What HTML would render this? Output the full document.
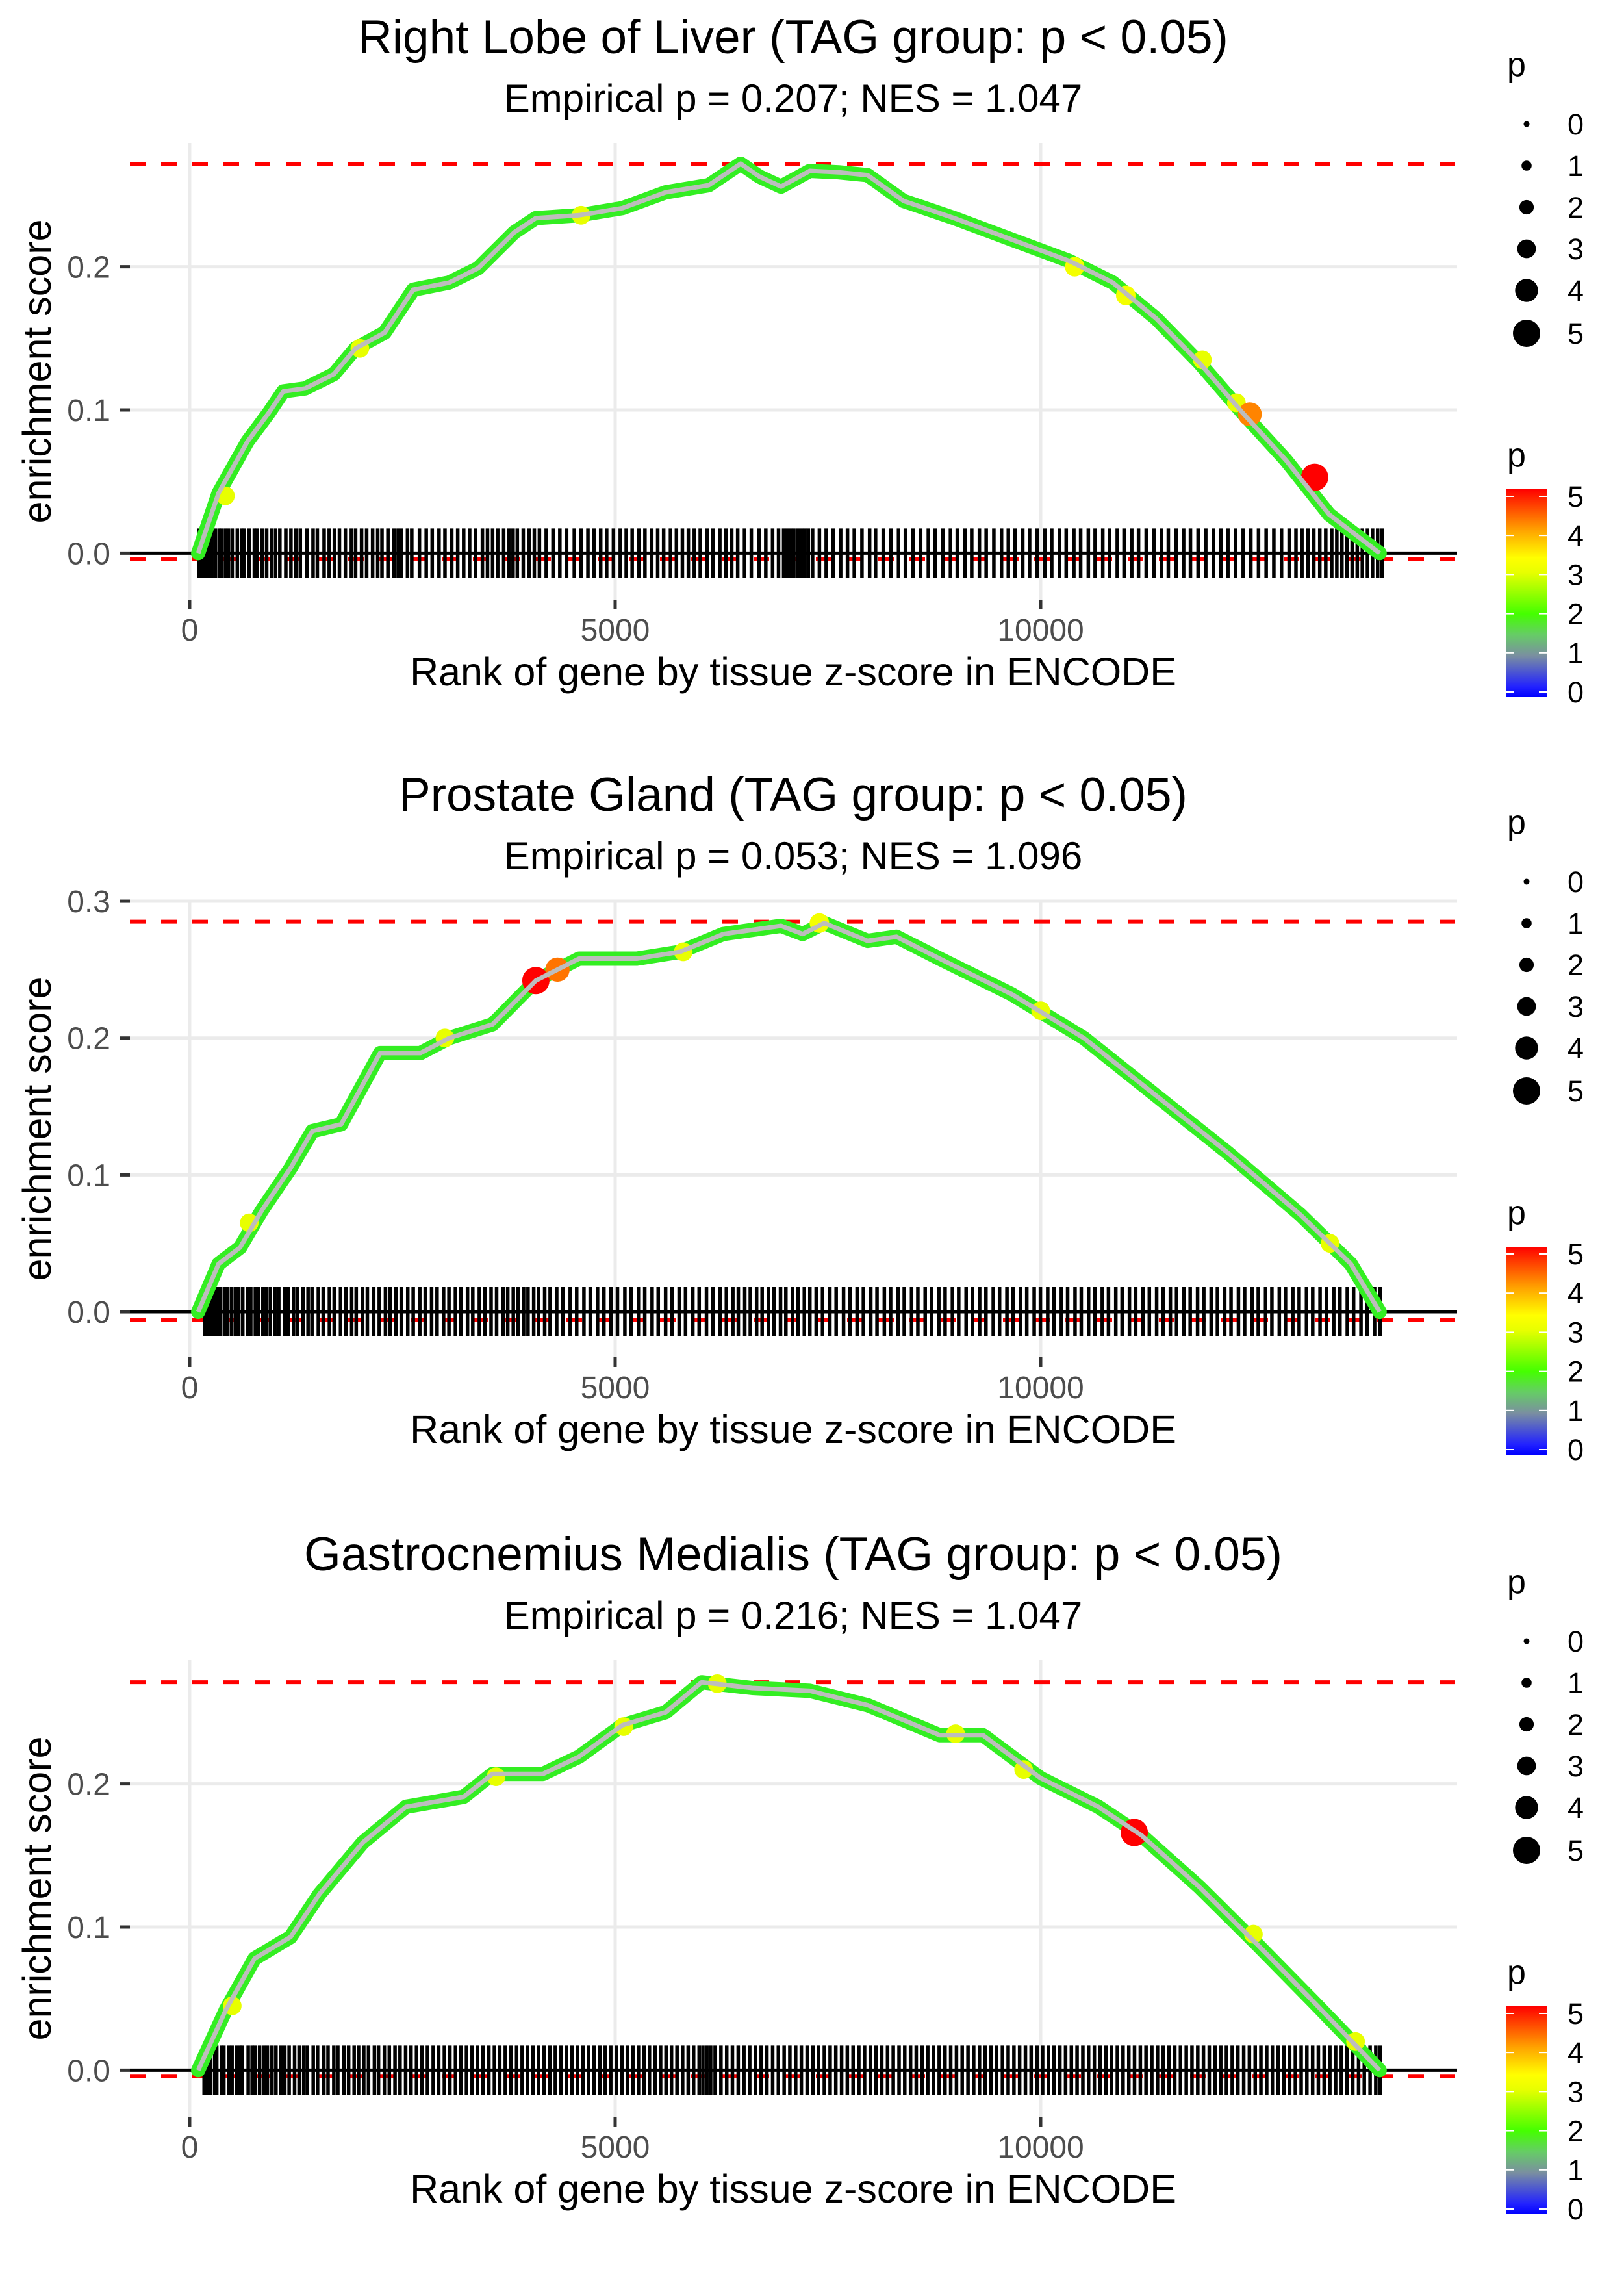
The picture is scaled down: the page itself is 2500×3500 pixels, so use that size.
<!DOCTYPE html>
<html><head><meta charset="utf-8"><style>
html,body{margin:0;padding:0;background:#fff;}
svg{display:block;font-family:"Liberation Sans",sans-serif;}
</style></head><body>
<svg id="fig" width="2500" height="3500" viewBox="0 0 2500 3500" xmlns="http://www.w3.org/2000/svg">
<defs>
<linearGradient id="pgrad" x1="0" y1="1" x2="0" y2="0">
<stop offset="0" stop-color="#0000ff"/><stop offset="0.05" stop-color="#2222ff"/>
<stop offset="0.2" stop-color="#7a8fa0"/><stop offset="0.3" stop-color="#66cc66"/>
<stop offset="0.4" stop-color="#44ff00"/><stop offset="0.6" stop-color="#e8ff00"/>
<stop offset="0.67" stop-color="#ffff00"/><stop offset="0.8" stop-color="#ffa500"/>
<stop offset="0.95" stop-color="#ff2a00"/><stop offset="1" stop-color="#ff0000"/>
</linearGradient>
</defs>
</svg>
<script>
// ---------- data ----------
const titles = ["Right Lobe of Liver (TAG group: p < 0.05)","Prostate Gland (TAG group: p < 0.05)","Gastrocnemius Medialis (TAG group: p < 0.05)"];
const subtitles = ["Empirical p = 0.207; NES = 1.047","Empirical p = 0.053; NES = 1.096","Empirical p = 0.216; NES = 1.047"];
const esMax = [0.272, 0.285, 0.271];
const esMin = [-0.004, -0.006, -0.004];
const xTicks = [0, 5000, 10000];
const xTickLabels = ["0","5000","10000"];
const yTicks1 = [0, 0.1, 0.2];
const yTicks2 = [0, 0.1, 0.2, 0.3];
const yTicks3 = [0, 0.1, 0.2];
const legendSizes = [0,1,2,3,4,5];

const curveRank1 = [100,340,680,930,1100,1356,1695,1950,2290,2627,3050,3390,3814,4068,4576,5085,5593,6100,6475,6695,6950,7288,7627,7966,8390,8983,9661,10339,10847,11356,11864,12373,12881,13390,13983];
const curveES1 = [0,0.042,0.078,0.098,0.113,0.115,0.125,0.143,0.154,0.184,0.189,0.199,0.224,0.234,0.236,0.241,0.252,0.257,0.272,0.263,0.256,0.267,0.266,0.264,0.246,0.234,0.219,0.204,0.189,0.164,0.133,0.098,0.065,0.027,0];
const curveRank2 = [100,340,593,847,1186,1441,1780,2237,2712,3050,3559,4068,4576,5254,5763,6271,6949,7203,7457,7966,8305,8813,9661,10508,11356,12203,13051,13644,13983];
const curveES2 = [0,0.035,0.047,0.074,0.105,0.132,0.137,0.189,0.189,0.2,0.21,0.242,0.258,0.258,0.263,0.276,0.282,0.276,0.284,0.271,0.274,0.258,0.232,0.2,0.158,0.116,0.071,0.035,0];
const curveRank3 = [100,424,763,1186,1525,2034,2542,3220,3559,4153,4576,5085,5593,6017,6610,7288,7966,8813,9322,10000,10678,11186,11864,12542,13220,13983];
const curveES3 = [0,0.042,0.078,0.093,0.123,0.159,0.184,0.191,0.207,0.207,0.219,0.241,0.25,0.271,0.267,0.265,0.255,0.234,0.234,0.204,0.184,0.164,0.128,0.088,0.047,0];

const ptRank1 = [420,2000,4600,10400,11000,11900,12300,12458,13220];
const ptES1 = [0.04,0.143,0.236,0.2,0.18,0.135,0.105,0.097,0.053];
const ptP1 = [3,3,3,3.2,3.2,3,3,4.2,5];
const ptRank2 = [700,3000,4068,4322,5800,7400,10000,13400];
const ptES2 = [0.065,0.2,0.242,0.25,0.263,0.284,0.22,0.05];
const ptP2 = [3,3,5,4.3,3,3.2,3,3];
const ptRank3 = [500,3600,5100,6200,9000,9800,11100,12500,13700];
const ptES3 = [0.045,0.205,0.24,0.27,0.235,0.21,0.166,0.095,0.02];
const ptP3 = [3,3,3,3,3,3,5,3,3];

const bar1 = [110,140,165,190,230,260,300,345,370,420,455,500,560,610,640,700,760,790,850,905,960,1010,1060,1130,1190,1250,1300,1380,1450,1500,1580,1640,1700,1760,1830,1900,1950,2020,2080,2150,2210,2260,2330,2400,2450,2490,2560,2610,2700,2780,2850,2930,3000,3080,3150,3220,3290,3360,3440,3500,3560,3620,3690,3750,3800,3850,3920,3990,4050,4110,4190,4270,4350,4430,4520,4600,4680,4750,4830,4900,4980,5060,5130,5200,5280,5350,5430,5500,5570,5650,5720,5790,5860,5930,6000,6080,6150,6230,6300,6370,6440,6520,6600,6690,6770,6850,6920,6980,7020,7060,7100,7150,7190,7230,7270,7320,7400,7480,7560,7650,7730,7810,7900,7990,8060,8150,8240,8330,8410,8500,8590,8680,8760,8850,8940,9020,9110,9190,9280,9360,9450,9540,9620,9700,9790,9870,9960,10050,10130,10220,10300,10390,10470,10560,10640,10730,10810,10900,10980,11070,11150,11240,11330,11420,11500,11590,11680,11760,11850,11940,12030,12120,12200,12290,12380,12470,12560,12650,12740,12830,12920,13000,13070,13140,13210,13280,13350,13420,13480,13540,13600,13660,13720,13780,13840,13900,13960,14010];
const bar2 = [180,215,252,287,331,362,408,447,493,538,577,624,679,718,772,809,861,903,948,1002,1047,1113,1158,1221,1268,1332,1391,1437,1512,1569,1642,1698,1773,1836,1904,1957,2033,2088,2163,2228,2301,2357,2424,2486,2563,2627,2704,2768,2843,2907,2984,3047,3123,3186,3265,3327,3404,3468,3542,3607,3684,3738,3803,3857,3924,3976,4043,4098,4172,4236,4313,4387,4472,4548,4633,4707,4793,4868,4952,5027,5114,5186,5273,5348,5434,5506,5593,5668,5752,5827,5913,5987,6073,6148,6232,6307,6383,6447,6523,6588,6662,6727,6803,6868,6943,7006,7083,7147,7223,7288,7362,7437,7523,7597,7684,7758,7843,7917,8004,8077,8163,8237,8324,8397,8483,8557,8643,8717,8803,8877,8963,9037,9124,9197,9283,9357,9443,9517,9604,9677,9763,9837,9924,9997,10083,10157,10243,10317,10404,10477,10563,10637,10724,10797,10883,10957,11043,11117,11204,11277,11363,11437,11524,11597,11683,11757,11844,11917,12003,12077,12163,12237,12324,12397,12483,12557,12643,12717,12804,12877,12963,13037,13124,13197,13283,13357,13444,13517,13603,13677,13764,13837,13924,13990];
const bar3 = [170,205,248,296,318,377,402,461,498,553,589,617,688,734,766,822,874,913,968,1014,1072,1118,1169,1233,1286,1341,1384,1452,1503,1577,1626,1694,1741,1812,1868,1933,1985,2046,2102,2171,2219,2288,2346,2413,2472,2538,2601,2666,2731,2794,2862,2927,2993,3058,3124,3188,3253,3319,3382,3447,3516,3581,3644,3709,3776,3842,3907,3968,4035,4101,4166,4232,4297,4361,4428,4493,4557,4622,4688,4753,4819,4884,4948,5014,5079,5143,5208,5274,5339,5403,5468,5534,5598,5662,5727,5793,5858,5922,5987,6031,6078,6122,6175,6243,6311,6378,6446,6513,6581,6648,6716,6783,6851,6918,6986,7053,7121,7188,7256,7323,7391,7458,7526,7593,7661,7728,7796,7863,7931,7998,8066,8133,8201,8268,8336,8403,8471,8538,8606,8673,8741,8808,8876,8943,9011,9078,9146,9213,9281,9348,9416,9483,9551,9618,9686,9753,9821,9888,9956,10023,10091,10158,10226,10293,10361,10428,10496,10563,10631,10698,10766,10833,10901,10968,11036,11103,11171,11238,11306,11373,11441,11508,11576,11643,11711,11778,11846,11913,11981,12048,12116,12183,12251,12318,12386,12453,12521,12588,12656,12723,12791,12858,12926,12993,13061,13128,13196,13263,13331,13398,13466,13533,13601,13668,13736,13803,13871,13938,13990];

// ---------- drawing ----------
const NS = "http://www.w3.org/2000/svg";
const svg = document.getElementById("fig");
function mk(tag, attrs, parent){ const e=document.createElementNS(NS,tag); for(const k in attrs) e.setAttribute(k,attrs[k]); (parent||svg).appendChild(e); return e; }
function pColor(p){
  const stops=[[0,[0,0,255]],[1,[122,143,160]],[1.5,[102,204,102]],[2,[68,255,0]],[3,[232,255,0]],[3.4,[255,255,0]],[4,[255,165,0]],[5,[255,0,0]]];
  for(let i=0;i<stops.length-1;i++){ const a=stops[i],b=stops[i+1]; if(p<=b[0]){ const t=(p-a[0])/(b[0]-a[0]); const c=a[1].map((v,j)=>Math.round(v+(b[1][j]-v)*t)); return `rgb(${c.join(",")})`; } }
  return "rgb(255,0,0)";
}
function pRadius(p){ return 4.5 + p*3.3; }

const panels = [
  {top:220, bot:923, dom:[-0.0325,0.2865], yt:yTicks1, cr:curveRank1, ce:curveES1, pr:ptRank1, pe:ptES1, pp:ptP1, bar:bar1},
  {top:1386, bot:2089, dom:[-0.0332,0.3005], yt:yTicks2, cr:curveRank2, ce:curveES2, pr:ptRank2, pe:ptES2, pp:ptP2, bar:bar2},
  {top:2555, bot:3258, dom:[-0.0325,0.2865], yt:yTicks3, cr:curveRank3, ce:curveES3, pr:ptRank3, pe:ptES3, pp:ptP3, bar:bar3}
];
const L=200, R=2243, XD=[-702,14893];
const xS = r => L + (r-XD[0])/(XD[1]-XD[0])*(R-L);

panels.forEach((P,i)=>{
  const yS = v => P.bot - (v-P.dom[0])/(P.dom[1]-P.dom[0])*(P.bot-P.top);
  const g = mk("g",{});
  
  
  const t = mk("text",{x:1221,y:P.top-138,"text-anchor":"middle","font-size":73,fill:"#000"},g); t.textContent=titles[i];
  
  
  const st = mk("text",{x:1221,y:P.top-48,"text-anchor":"middle","font-size":60,fill:"#000"},g); st.textContent=subtitles[i];
  
  
  P.yt.forEach(v=>{ const ln=mk("line",{x1:L,x2:R,y1:yS(v),y2:yS(v),stroke:"#ebebeb","stroke-width":5},g);
    
     });
  xTicks.forEach(v=>{ const ln=mk("line",{x1:xS(v),x2:xS(v),y1:P.top,y2:P.bot,stroke:"#ebebeb","stroke-width":5},g);
    
     });
  P.yt.forEach(v=>{
    const tk=mk("line",{x1:185,x2:200,y1:yS(v),y2:yS(v),stroke:"#333","stroke-width":5},g);
    
    
    const lb=mk("text",{x:170,y:yS(v)+17,"text-anchor":"end","font-size":48,fill:"#4d4d4d"},g); lb.textContent=v.toFixed(1);
    
    
  });
  xTicks.forEach((v,k)=>{
    const tk=mk("line",{x1:xS(v),x2:xS(v),y1:P.bot,y2:P.bot+15,stroke:"#333","stroke-width":5},g);
    
    
    const lb=mk("text",{x:xS(v),y:P.bot+63,"text-anchor":"middle","font-size":48,fill:"#4d4d4d"},g); lb.textContent=xTickLabels[k];
    
    
  });
  const xt=mk("text",{x:1221,y:P.bot+132,"text-anchor":"middle","font-size":61,fill:"#000"},g); xt.textContent="Rank of gene by tissue z-score in ENCODE";
  
  
  const ym=(P.top+P.bot)/2;
  const yt=mk("text",{x:0,y:0,"text-anchor":"middle","font-size":61,fill:"#000",transform:`translate(78,${ym}) rotate(-90)`},g); yt.textContent="enrichment score";
  
  
  [esMax[i],esMin[i]].forEach((v,k)=>{ const d=mk("line",{x1:L,x2:R,y1:yS(v),y2:yS(v),stroke:"#ff0000","stroke-width":6,"stroke-dasharray":"24 24"},g);
    
     });
  const bg=mk("g",{},g);
  
  
  const y0=yS(0);
  P.bar.forEach(r=>{ const b=mk("line",{x1:xS(r),x2:xS(r),y1:y0-38,y2:y0+38,stroke:"#000","stroke-width":5.5},bg);
    
     });
  const z=mk("line",{x1:L,x2:R,y1:y0,y2:y0,stroke:"#000","stroke-width":5},g);
  
  
  const pts=P.cr.map((r,k)=>xS(r).toFixed(1)+","+yS(P.ce[k]).toFixed(1)).join(" ");
  const band=mk("polyline",{points:pts,fill:"none",stroke:"#33ee22","stroke-width":22,"stroke-linejoin":"round","stroke-linecap":"round"},g);
  
  
  P.pr.forEach((r,k)=>{ const c=mk("circle",{cx:xS(r),cy:yS(P.pe[k]),r:pRadius(P.pp[k]),fill:pColor(P.pp[k])},g);
    
     });
  const line=mk("polyline",{points:pts,fill:"none",stroke:"#bdbdbd","stroke-width":7,"stroke-linejoin":"round"},g);
  
  
  const lg=mk("g",{},g);
  
  
  const pt=mk("text",{x:2320,y:P.top-103,"font-size":52,fill:"#000"},lg); pt.textContent="p";
  
  
  const dy=[-29,35,99,163,227,293];
  legendSizes.forEach((s,k)=>{
    const c=mk("circle",{cx:2350,cy:P.top+dy[k],r:pRadius(s),fill:"#000"},lg);
    
    
    const tx=mk("text",{x:2413,y:P.top+dy[k]+16,"font-size":45,fill:"#000"},lg); tx.textContent=String(s);
    
    
  });
  const cg=mk("g",{},g);
  
  
  const ct=mk("text",{x:2320,y:P.top+498,"font-size":52,fill:"#000"},cg); ct.textContent="p";
  
  
  const cb=mk("rect",{x:2318,y:P.top+533,width:64,height:320,fill:"url(#pgrad)"},cg);
  
  
  legendSizes.forEach((s,k)=>{
    const yy=P.top+845-s*60.2;
    mk("line",{x1:2318,x2:2331,y1:yy,y2:yy,stroke:"#fff","stroke-width":2},cg);
    mk("line",{x1:2369,x2:2382,y1:yy,y2:yy,stroke:"#fff","stroke-width":2},cg);
    const tx=mk("text",{x:2413,y:yy+16,"font-size":45,fill:"#000"},cg); tx.textContent=String(s);
    
    
  });
});
</script>
</body></html>
